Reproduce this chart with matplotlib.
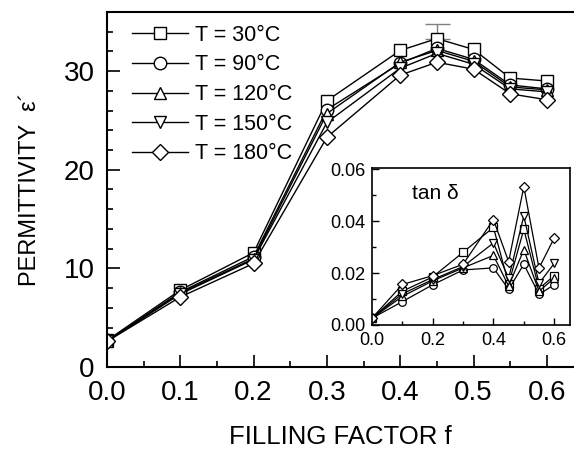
import matplotlib.pyplot as plt
from matplotlib.ticker import MultipleLocator, FormatStrFormatter

plt.rcParams['font.family'] = ['Liberation Sans', 'DejaVu Sans']

# filling factor
f = [0.0, 0.1, 0.2, 0.3, 0.4, 0.45, 0.5, 0.55, 0.6]

labels = ["T = 30°C", "T = 90°C", "T = 120°C", "T = 150°C", "T = 180°C"]
markers = ["s", "o", "^", "v", "D"]

# permittivity eps' for each temperature
eps_30 = [2.7, 7.8, 11.6, 27.0, 32.1, 33.3, 32.2, 29.3, 29.0]
eps_90 = [2.6, 7.6, 11.2, 26.1, 30.8, 32.3, 31.2, 28.6, 28.2]
eps_120 = [2.6, 7.5, 11.0, 25.7, 30.9, 32.1, 31.0, 28.4, 28.1]
eps_150 = [2.6, 7.4, 10.9, 24.8, 30.3, 31.8, 30.7, 28.2, 27.9]
eps_180 = [2.6, 7.1, 10.5, 23.3, 29.6, 30.9, 30.2, 27.7, 27.1]
eps_all = [eps_30, eps_90, eps_120, eps_150, eps_180]

# error bar on the 30C point at f = 0.45
err_f = 0.45
err_val = 33.3
err_size = 1.5

# loss tangent
tan_30 = [0.0026, 0.013, 0.0185, 0.028, 0.0376, 0.0158, 0.0369, 0.014, 0.019]
tan_90 = [0.0026, 0.009, 0.0155, 0.0212, 0.022, 0.0137, 0.0234, 0.0118, 0.0155]
tan_120 = [0.0026, 0.011, 0.017, 0.022, 0.0268, 0.015, 0.029, 0.013, 0.018]
tan_150 = [0.0026, 0.012, 0.0175, 0.0225, 0.0316, 0.018, 0.042, 0.016, 0.0237]
tan_180 = [0.0026, 0.0156, 0.019, 0.0234, 0.0406, 0.0244, 0.0533, 0.0219, 0.0335]
tan_all = [tan_30, tan_90, tan_120, tan_150, tan_180]

fig = plt.figure(figsize=(5.74, 4.5), dpi=100)
ax = fig.add_axes([0.1864, 0.1844, 0.8136, 0.789])

ax.errorbar([err_f], [err_val], yerr=[[0], [err_size]], fmt="none",
            ecolor="gray", elinewidth=1, capsize=9, capthick=1, zorder=1)
for eps, m, lab in zip(eps_all, markers, labels):
    ms = 8 if m == "D" else 9
    ax.plot(f, eps, color="black", lw=1, marker=m, ms=ms, mfc="white",
            mec="black", mew=1, label=lab)

ax.set_xlim(0, 0.637)
ax.set_ylim(0, 36)
ax.xaxis.set_major_locator(MultipleLocator(0.1))
ax.xaxis.set_minor_locator(MultipleLocator(0.05))
ax.yaxis.set_major_locator(MultipleLocator(10))
ax.yaxis.set_minor_locator(MultipleLocator(2))
ax.xaxis.set_major_formatter(FormatStrFormatter("%.1f"))
ax.tick_params(which="both", direction="in", top=False, right=False, width=1.2)
ax.tick_params(which="major", length=9, labelsize=20, pad=9)
ax.tick_params(which="minor", length=4.5)
ax.tick_params(axis="y", which="major", pad=9)
for s in ["left", "bottom", "top"]:
    ax.spines[s].set_linewidth(1.5)
ax.spines["right"].set_visible(False)
ax.set_xlabel("FILLING FACTOR f", fontsize=18.5, labelpad=14)
ax.set_ylabel("PERMITTIVITY  ε´", fontsize=17, labelpad=16)

leg = ax.legend(loc="upper left", frameon=False, fontsize=15.5, handlelength=2.6,
                handletextpad=0.35, labelspacing=0.4, borderaxespad=0.2,
                bbox_to_anchor=(0.025, 1.0))

# inset with tan delta
ins = fig.add_axes([0.648, 0.2778, 0.345, 0.349])
for t, m in zip(tan_all, markers):
    ms = 5 if m == "D" else 5.5
    ins.plot(f, t, color="black", lw=0.9, marker=m, ms=ms, mfc="white",
             mec="black", mew=0.9)
ins.set_xlim(0, 0.652)
ins.set_ylim(0, 0.0605)
ins.xaxis.set_major_locator(MultipleLocator(0.2))
ins.xaxis.set_minor_locator(MultipleLocator(0.1))
ins.yaxis.set_major_locator(MultipleLocator(0.02))
ins.yaxis.set_minor_locator(MultipleLocator(0.01))
ins.xaxis.set_major_formatter(FormatStrFormatter("%.1f"))
ins.yaxis.set_major_formatter(FormatStrFormatter("%.2f"))
ins.tick_params(which="both", direction="in", width=1, labelsize=13, pad=5)
ins.tick_params(which="major", length=5)
ins.tick_params(which="minor", length=3)
for s in ins.spines.values():
    s.set_linewidth(1.2)
ins.text(0.2, 0.84, "tan δ", transform=ins.transAxes, fontsize=15,
         ha="left", va="center")

fig.savefig("out.png", dpi=100)
